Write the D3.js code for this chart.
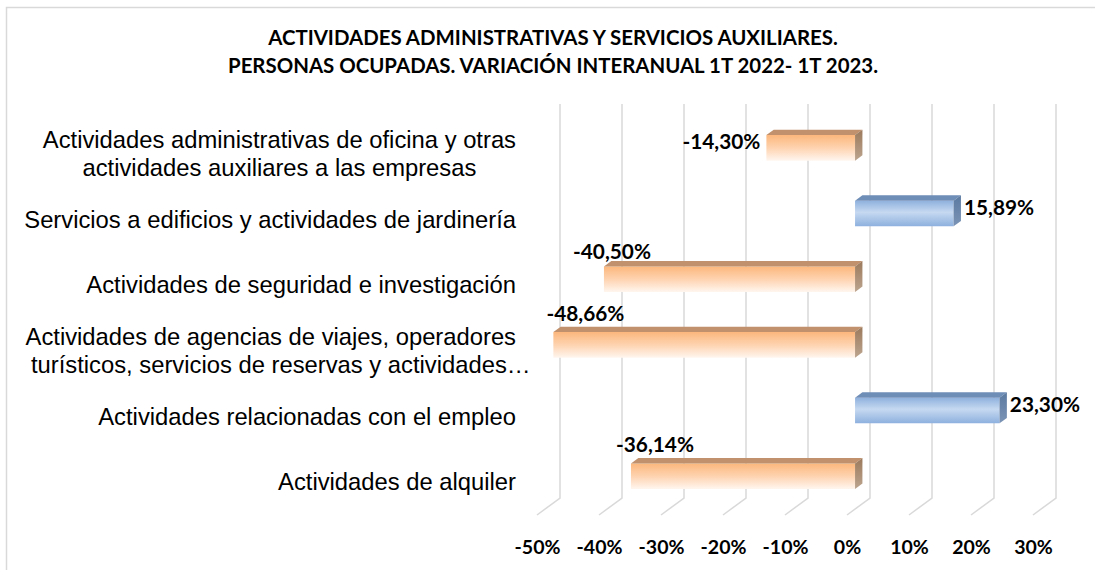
<!DOCTYPE html>
<html><head><meta charset="utf-8">
<script src="https://cdn.jsdelivr.net/npm/d3@7"></script>
<style>body{margin:0;background:#fff}svg{display:block}</style>
</head><body><svg id="c" width="1095" height="570"></svg>
<script>
// ---------- data ----------
const titleLines = [
  "ACTIVIDADES ADMINISTRATIVAS Y SERVICIOS AUXILIARES.",
  "PERSONAS OCUPADAS. VARIACIÓN INTERANUAL 1T 2022- 1T 2023."
];
const categories = [
  "Actividades administrativas de oficina y otras\nactividades auxiliares a las empresas",
  "Servicios a edificios y actividades de jardinería",
  "Actividades de seguridad e investigación",
  "Actividades de agencias de viajes, operadores\nturísticos, servicios de reservas y actividades…",
  "Actividades relacionadas con el empleo",
  "Actividades de alquiler"
];
const values = [-14.30, 15.89, -40.50, -48.66, 23.30, -36.14];
const tickValues = [-50, -40, -30, -20, -10, 0, 10, 20, 30];

// manual label nudges (labels were moved by hand in the original)
const labelNudge = [[0,0],[0,0],[53,-21.5],[77,-25],[0,0],[69,-26]];

// ---------- layout ----------
const svg = d3.select("#c");
const wall = {left:560, right:1056, top:104, bottom:498};
const D = {x:23, y:-17};          // depth vector front -> back
const f0 = 0.35, f1 = 0.67;       // bar depth range
const esLocale = d3.formatLocale({decimal:",", thousands:".", grouping:[3], currency:["","€"], minus:"-"});
const fmtVal = v => esLocale.format(".2f")(v) + "%";
const fmtTick = v => esLocale.format("d")(v) + "%";

const x = d3.scaleLinear().domain([-50, 30]).range([wall.left, wall.right]);
const y = d3.scaleBand().domain(d3.range(categories.length))
  .range([wall.top - D.y, wall.bottom - D.y]).paddingInner(0.61).paddingOuter(0.305);
const bw = y.bandwidth();
const P = (v, py, f) => [x(v) + D.x * (f - 1), py + D.y * f];

// chart border
svg.append("rect").attr("x", 6.5).attr("y", 7.5).attr("width", 1200).attr("height", 700)
  .attr("fill", "#fff").attr("stroke", "#d9d9d9").attr("stroke-width", 1.5);

// gradients
const defs = svg.append("defs");
function grad(id, stops) {
  const g = defs.append("linearGradient").attr("id", id).attr("x1",0).attr("y1",0).attr("x2",0).attr("y2",1);
  stops.forEach(s => g.append("stop").attr("offset", s[0]).attr("stop-color", s[1]));
}
grad("oFront", [[0,"#fcb77c"],[0.5,"#fed3b0"],[1,"#fff6ef"]]);
grad("oSide",  [[0,"#9c7a5c"],[1,"#bca48e"]]);
grad("bFront", [[0,"#8fb1dd"],[0.45,"#c6d9f1"],[1,"#8db0de"]]);
grad("bSide",  [[0,"#5b79a0"],[1,"#7b94b6"]]);

// gridlines (back wall + floor)
svg.append("g").selectAll("path").data(tickValues).join("path")
  .attr("d", t => d3.line()([[x(t), wall.top], [x(t), wall.bottom], [x(t) - D.x, wall.bottom - D.y]]))
  .attr("fill", "none").attr("stroke", "#d9d9d9").attr("stroke-width", 1.5);

// bars
const bars = svg.append("g").selectAll("g").data(values).join("g");
const poly = pts => "M" + pts.map(p => p.join(",")).join("L") + "Z";
bars.each(function(v, i) {
  const g = d3.select(this);
  const v0 = Math.min(0, v), v1 = Math.max(0, v);
  const a = y(i), b = y(i) + bw;
  const neg = v < 0;
  g.append("path").attr("d", poly([P(v0,a,f0), P(v1,a,f0), P(v1,b,f0), P(v0,b,f0)]))
    .attr("fill", neg ? "url(#oFront)" : "url(#bFront)");
  g.append("path").attr("d", poly([P(v0,a,f0), P(v1,a,f0), P(v1,a,f1), P(v0,a,f1)]))
    .attr("fill", neg ? "#c0916c" : "#6e8db7");
  g.append("path").attr("d", poly([P(v1,a,f0), P(v1,a,f1), P(v1,b,f1), P(v1,b,f0)]))
    .attr("fill", neg ? "url(#oSide)" : "url(#bSide)");
});

// helper: fit font size so a given text reaches a reference width
function fitSize(sel, base, target) {
  sel.style("font-size", base + "px");
  const w = sel.node().getComputedTextLength();
  return base * target / w;
}

// data labels
const dl = svg.append("g").selectAll("text").data(values).join("text")
  .attr("font-family", "Lato, 'Open Sans', sans-serif").attr("font-weight", "bold")
  .attr("fill", "#000").attr("dy", "0.36em")
  .text(d => fmtVal(d));
const dlSize = fitSize(dl.filter((d,i) => i === 0), 20, 78);
dl.style("font-size", dlSize + "px")
  .attr("text-anchor", d => d < 0 ? "end" : "start")
  .attr("x", (d, i) => (d < 0 ? P(d, 0, f0)[0] - 6 : P(d, 0, f1)[0] + 3) + labelNudge[i][0])
  .attr("y", (d, i) => y(i) + bw / 2 - 12 + labelNudge[i][1]);

// x axis (front floor edge)
const xAxisScale = x.copy().range([wall.left - D.x, wall.right - D.x]);
const xAxis = svg.append("g").attr("transform", "translate(0,547)")
  .call(d3.axisBottom(xAxisScale).tickValues(tickValues).tickFormat(fmtTick).tickSize(0));
xAxis.select(".domain").remove();
const xt = xAxis.selectAll("text").attr("y", 0).attr("dy", "0.36em")
  .attr("font-family", "Lato, 'Open Sans', sans-serif").attr("font-weight", "bold").attr("fill", "#000");
const xtSize = fitSize(xt.filter(d => d === -40), 20, 46);
xt.style("font-size", xtSize + "px");

// category axis (front plane)
const labelRight = 516;
const yAxis = svg.append("g").attr("transform", `translate(${labelRight},0)`)
  .call(d3.axisLeft(y).tickSize(0).tickFormat(""));
yAxis.select(".domain").remove();
const catFont = "'Liberation Sans', Arial, sans-serif";
const probe = svg.append("text").attr("font-family", catFont).text(categories[1].split("\n")[0]);
const catSize = fitSize(probe, 20, 492);
probe.remove();
yAxis.selectAll(".tick").each(function(i) {
  const lines = categories[i].split("\n");
  const t = d3.select(this).append("text").attr("font-family", catFont)
    .style("font-size", catSize + "px").attr("fill", "#000");
  if (lines.length === 1) {
    t.attr("text-anchor", "end").attr("x", 0).attr("dy", "0.35em").text(lines[0]);
  } else {
    t.text(lines[0]);
    const w0 = t.node().getComputedTextLength();
    t.text(null).attr("text-anchor", "middle");
    const lh = 28;
    lines.forEach((ln, k) => {
      t.append("tspan").attr("x", -w0 / 2 + (k > 0 && /…$/.test(ln) ? 10 : 0))
        .attr("y", (k - (lines.length - 1) / 2) * lh).attr("dy", "0.35em").text(ln);
    });
  }
});

// title
const tt = svg.append("g").selectAll("text").data(titleLines).join("text")
  .attr("font-family", "Lato, 'Open Sans', sans-serif").attr("font-weight", "bold")
  .attr("fill", "#000").attr("text-anchor", "middle")
  .attr("x", 553).attr("y", (d, i) => 38 + i * 28).attr("dy", "0.36em").text(d => d);
const tSize = fitSize(tt.filter((d,i) => i === 0), 20, 570);
tt.style("font-size", tSize + "px");
</script></body></html>
